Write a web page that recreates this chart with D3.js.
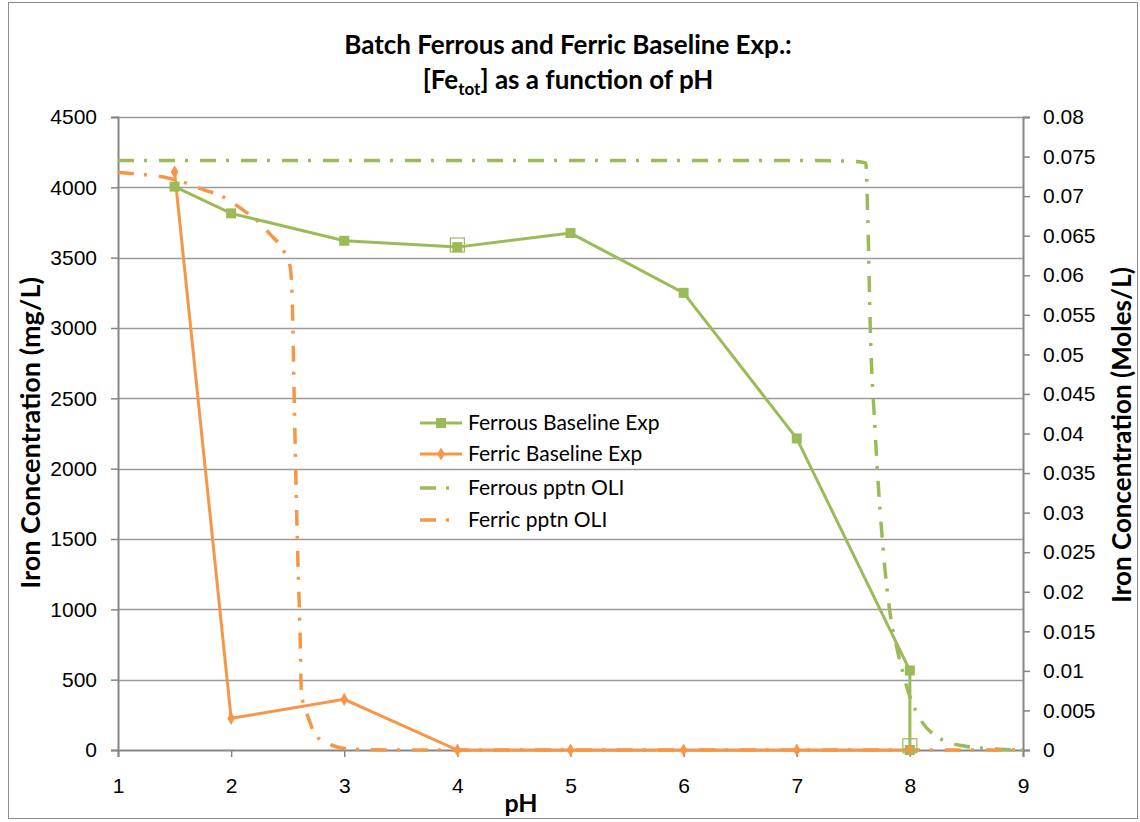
<!DOCTYPE html>
<html>
<head>
<meta charset="utf-8">
<script src="https://cdn.jsdelivr.net/npm/d3@7"></script>
<style>
  body { margin: 0; background: #fff; }
  svg { font-family: Lato, "Open Sans", sans-serif; }
  .tick text { font-size: 21px; fill: #000; }
  .tick line { stroke: #868686; }
</style>
</head>
<body>
<svg id="chart" width="1140" height="822"></svg>
<script>
  // pH of experimental samples
  const ferrousPH = [1.5, 2, 3, 4, 5, 6, 7, 8, 8];
  const ferrousMg = [4005, 3815, 3620, 3575, 3675, 3250, 2215, 565, 0];
  const ferricPH = [1.5, 2, 3, 4, 5, 6, 7, 8];
  const ferricMg = [4110, 225, 360, 0, 0, 0, 0, 0];
  // duplicate samples shown with open markers
  const repeatPH = [4, 8];
  const repeatMg = [3590, 30];

  // OLI model curves (Moles/L, right axis)
  const ferrousOliPH = [1, 3, 5, 7, 7.5, 7.61, 7.63, 7.65, 7.69, 7.78, 7.83, 7.89, 7.99, 8.11, 8.25, 8.44, 8.8, 9];
  const ferrousOliMol = [0.0745, 0.0745, 0.0745, 0.0745, 0.0744, 0.0742, 0.066, 0.0533, 0.0411, 0.0228, 0.0168, 0.0126, 0.0072, 0.0035, 0.0016, 0.0006, 0.0001, 0];
  const ferricOliPH = [1, 1.24, 1.44, 1.59, 1.76, 1.93, 2.08, 2.23, 2.35, 2.46, 2.52, 2.54, 2.56, 2.59, 2.61, 2.62, 2.64, 2.68, 2.74, 2.89, 3.07, 3.5, 5, 7, 9];
  const ferricOliMol = [0.0730, 0.0727, 0.0723, 0.0717, 0.0708, 0.0699, 0.0685, 0.0669, 0.0651, 0.0632, 0.0612, 0.0569, 0.0427, 0.0240, 0.0144, 0.0076, 0.0057, 0.0042, 0.0020, 0.0006, 0.0001, 0, 0, 0, 0];

  const xTicks = [1, 2, 3, 4, 5, 6, 7, 8, 9];
  const leftTicks = [0, 500, 1000, 1500, 2000, 2500, 3000, 3500, 4000, 4500];
  const rightTicks = d3.range(0, 17).map((i) => +(i * 0.005).toFixed(3));

  const legendItems = ["Ferrous Baseline Exp", "Ferric Baseline Exp", "Ferrous pptn OLI", "Ferric pptn OLI"];

  const green = "#9bbb59";
  const orange = "#f79646";
  const dashDot = "16,10,3,12";

  const svg = d3.select("#chart");
  const plot = { left: 118, right: 1023, top: 117, bottom: 750 };

  const x = d3.scaleLinear().domain([1, 9]).range([plot.left, plot.right]);
  const yL = d3.scaleLinear().domain([0, 4500]).range([plot.bottom, plot.top]);
  const yR = d3.scaleLinear().domain([0, 0.08]).range([plot.bottom, plot.top]);

  // chart area border
  svg.append("rect")
    .attr("x", 8.5).attr("y", 2.5).attr("width", 1129).attr("height", 816)
    .attr("fill", "none").attr("stroke", "#8c8c8c").attr("stroke-width", 1);

  // gridlines
  svg.append("g")
    .selectAll("line")
    .data(leftTicks.filter((d) => d > 0))
    .join("line")
    .attr("x1", plot.left).attr("x2", plot.right)
    .attr("y1", (d) => Math.round(yL(d)) + 0.5).attr("y2", (d) => Math.round(yL(d)) + 0.5)
    .attr("stroke", "#9a9a9a").attr("stroke-width", 1.5);

  // axes
  const leftAxis = svg.append("g")
    .attr("transform", `translate(${plot.left},0)`)
    .call(d3.axisLeft(yL).tickValues(leftTicks).tickSize(7).tickPadding(14).tickFormat(d3.format("d")));
  const rightAxis = svg.append("g")
    .attr("transform", `translate(${plot.right},0)`)
    .call(d3.axisRight(yR).tickValues(rightTicks).tickSize(7).tickPadding(13).tickFormat((d) => (d === 0 ? "0" : String(d))));
  const bottomAxis = svg.append("g")
    .attr("transform", `translate(0,${plot.bottom})`)
    .call(d3.axisBottom(x).tickValues(xTicks).tickSize(7).tickPadding(21).tickFormat(d3.format("d")));

  [leftAxis, rightAxis, bottomAxis].forEach((g) => {
    g.select(".domain").attr("stroke", "#868686").attr("stroke-width", 2);
    g.selectAll(".tick line").attr("stroke-width", 1.5);
  });

  // model curves
  const lineMol = d3.line().x((d) => x(d[0])).y((d) => yR(d[1])).curve(d3.curveMonotoneX);
  const lineMg = d3.line().x((d) => x(d[0])).y((d) => yL(d[1]));

  svg.append("path")
    .datum(ferrousOliPH.map((p, i) => [p, ferrousOliMol[i]]))
    .attr("d", lineMol)
    .attr("fill", "none").attr("stroke", green).attr("stroke-width", 3.5)
    .attr("stroke-dasharray", dashDot);

  svg.append("path")
    .datum(ferricOliPH.map((p, i) => [p, ferricOliMol[i]]))
    .attr("d", lineMol)
    .attr("fill", "none").attr("stroke", orange).attr("stroke-width", 3.5)
    .attr("stroke-dasharray", dashDot);

  // experimental series
  const ferrous = ferrousPH.map((p, i) => [p, ferrousMg[i]]);
  const ferric = ferricPH.map((p, i) => [p, ferricMg[i]]);

  svg.append("path").datum(ferrous).attr("d", lineMg)
    .attr("fill", "none").attr("stroke", green).attr("stroke-width", 3);
  svg.append("path").datum(ferric).attr("d", lineMg)
    .attr("fill", "none").attr("stroke", orange).attr("stroke-width", 3);

  svg.append("g").selectAll("rect")
    .data(ferrous)
    .join("rect")
    .attr("x", (d) => x(d[0]) - 5).attr("y", (d) => yL(d[1]) - 5)
    .attr("width", 10).attr("height", 10)
    .attr("fill", green);

  const diamond = d3.symbol().type(d3.symbolDiamond).size(50);
  svg.append("g").selectAll("path")
    .data(ferric)
    .join("path")
    .attr("transform", (d) => `translate(${x(d[0])},${yL(d[1])})`)
    .attr("d", diamond)
    .attr("fill", orange);

  svg.append("g").selectAll("rect")
    .data(repeatPH.map((p, i) => [p, repeatMg[i]]))
    .join("rect")
    .attr("x", (d) => x(d[0]) - 7).attr("y", (d) => yL(d[1]) - 7)
    .attr("width", 14).attr("height", 14)
    .attr("fill", "none").attr("stroke", green).attr("stroke-width", 1.2);

  // legend
  const legend = svg.append("g").attr("transform", "translate(420,423)");
  const legendRows = [0, 31, 65, 97];
  legendItems.forEach((name, i) => {
    const g = legend.append("g").attr("transform", `translate(0,${legendRows[i]})`);
    const color = i % 2 === 0 ? green : orange;
    if (i < 2) {
      g.append("line").attr("x1", 0).attr("x2", 42).attr("stroke", color).attr("stroke-width", 3);
      if (i === 0) {
        g.append("rect").attr("x", 16).attr("y", -5).attr("width", 10).attr("height", 10).attr("fill", color);
      } else {
        g.append("path").attr("transform", "translate(21,0)").attr("d", diamond).attr("fill", color);
      }
    } else {
      g.append("line").attr("x1", 0).attr("x2", 42).attr("stroke", color).attr("stroke-width", 3.5)
        .attr("stroke-dasharray", "16,10,3,30");
    }
    g.append("text").attr("x", 48).attr("y", 7)
      .attr("font-size", 21).attr("fill", "#000").text(name);
  });

  // titles
  const title = svg.append("text")
    .attr("text-anchor", "middle").attr("font-weight", "bold").attr("font-size", 26);
  title.append("tspan").attr("x", 568).attr("y", 54).text("Batch Ferrous and Ferric Baseline Exp.:");
  const line2 = title.append("tspan").attr("x", 568).attr("y", 89);
  line2.text("[Fe");
  title.append("tspan").attr("font-size", 17).attr("dy", 6).text("tot");
  title.append("tspan").attr("dy", -6).text("] as a function of pH");

  svg.append("text")
    .attr("transform", "translate(40,433) rotate(-90)")
    .attr("text-anchor", "middle").attr("font-weight", "bold").attr("font-size", 27)
    .text("Iron Concentration (mg/L)");

  svg.append("text")
    .attr("transform", "translate(1131,435) rotate(-90)")
    .attr("text-anchor", "middle").attr("font-weight", "bold").attr("font-size", 26)
    .text("Iron Concentration (Moles/L)");

  svg.append("text")
    .attr("x", 521).attr("y", 812)
    .attr("text-anchor", "middle").attr("font-weight", "bold").attr("font-size", 25)
    .text("pH");
</script>
</body>
</html>
